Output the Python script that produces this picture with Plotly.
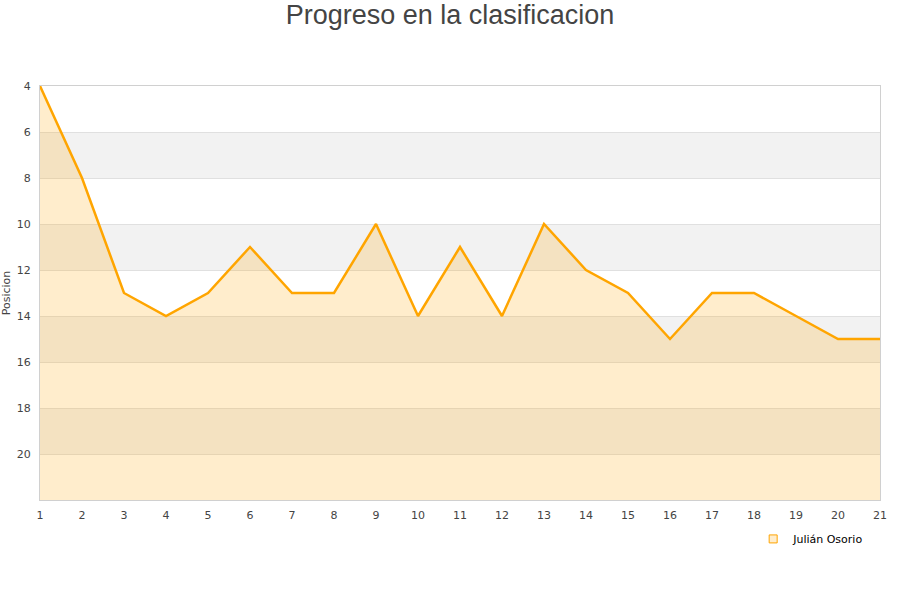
import plotly.graph_objects as go

jornadas = list(range(1, 22))
posicion = [4, 8, 13, 14, 13, 11, 13, 13, 10, 14, 11, 14, 10, 12, 13, 15, 13, 13, 14, 15, 15]
y_ticks = [4, 6, 8, 10, 12, 14, 16, 18, 20]
band_starts = [6, 10, 14, 18]
y_bottom = 22
y_top = 4

fig = go.Figure()
fig.add_trace(go.Scatter(x=jornadas, y=[y_bottom] * len(jornadas), mode="lines",
                         line=dict(width=0), showlegend=False, hoverinfo="skip"))
fig.add_trace(go.Scatter(x=jornadas, y=posicion, mode="lines", name="Julián Osorio",
                         line=dict(color="#FFA500", width=2.5), showlegend=False,
                         fill="tonexty", fillcolor="rgba(255,165,0,0.2)"))
fig.add_trace(go.Scatter(x=[None], y=[None], mode="markers", name="Julián Osorio",
                         marker=dict(symbol="square", size=8, color="#FFEDCC",
                                     line=dict(color="#FFA500", width=1))))

for b in band_starts:
    fig.add_shape(type="rect", xref="paper", yref="y", x0=0, x1=1, y0=b, y1=b + 2,
                  fillcolor="#f2f2f2", line=dict(width=0), layer="below")

fig.update_layout(
    width=900, height=600,
    paper_bgcolor="white", plot_bgcolor="white",
    margin=dict(l=40, r=20, t=86, b=100),
    title=dict(text="Progreso en la clasificacion", x=0.5, xanchor="center", y=0.975, yanchor="middle",
               font=dict(family="Liberation Sans, Arial", size=27, color="#444444")),
    font=dict(family="DejaVu Sans", size=11, color="#444444"),
    showlegend=True,
    legend=dict(x=0.849, y=-0.094, xanchor="left", yanchor="middle", bgcolor="rgba(0,0,0,0)",
                itemwidth=30, font=dict(family="DejaVu Sans", size=11, color="#000000")),
    xaxis=dict(range=[1, 21], tickmode="array", tickvals=jornadas, showgrid=False, automargin=False,
               showline=True, linecolor="#d0d0d0", mirror=True, zeroline=False, ticks="",
               ticklabelstandoff=5, tickfont=dict(size=11, color="#444444")),
    yaxis=dict(range=[y_bottom, y_top], tickmode="array", tickvals=y_ticks, automargin=False,
               showgrid=True, gridcolor="#e0e0e0", showline=True, linecolor="#d0d0d0", mirror=True,
               zeroline=False, ticks="", ticklabelstandoff=6,
               title=dict(text="Posicion", font=dict(size=11), standoff=4),
               tickfont=dict(size=11, color="#444444")),
)

fig.write_html("out.html", config={"displayModeBar": False},
               post_script="document.body.style.margin='0';")
